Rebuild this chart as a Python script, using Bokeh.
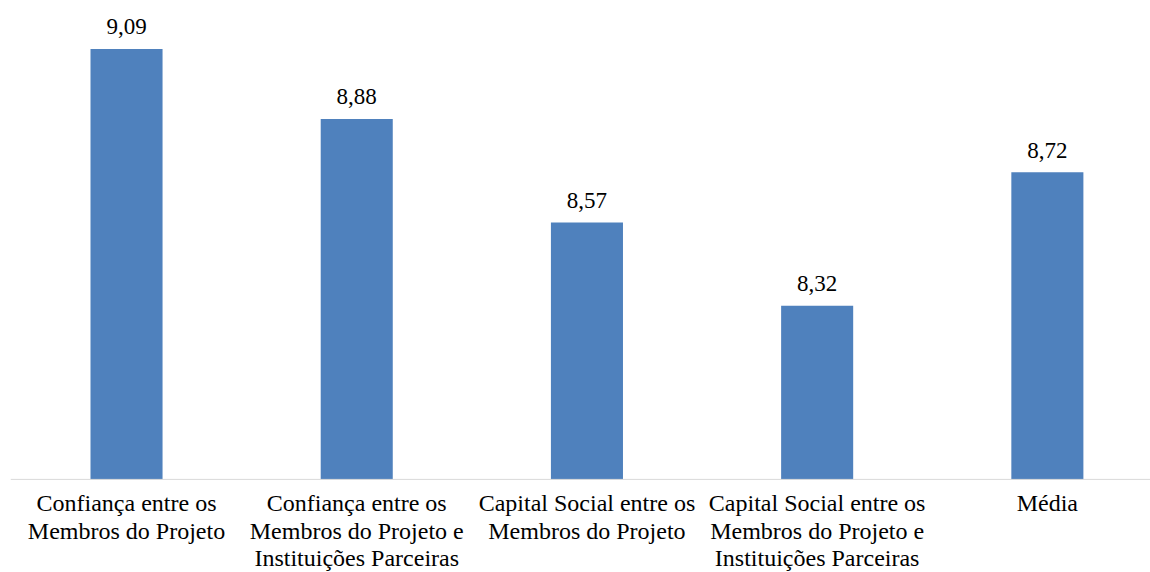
from bokeh.plotting import figure
from bokeh.models import ColumnDataSource, Range1d, Span
from bokeh.core.properties import value
from bokeh.embed import file_html
from bokeh.resources import INLINE

categories = [
    "Confiança entre os\nMembros do Projeto",
    "Confiança entre os\nMembros do Projeto e\nInstituições Parceiras",
    "Capital Social entre os\nMembros do Projeto",
    "Capital Social entre os\nMembros do Projeto e\nInstituições Parceiras",
    "Média",
]
values = [9.09, 8.88, 8.57, 8.32, 8.72]
value_labels = ["9,09", "8,88", "8,57", "8,32", "8,72"]

FONT = "Liberation Serif"
Y0 = 7.8

xs = list(range(1, len(categories) + 1))
source = ColumnDataSource(dict(x=xs, top=values, lab=value_labels,
                               cat=categories, base=[Y0] * len(xs)))

p = figure(width=1150, height=572, output_backend="svg", toolbar_location=None,
           x_range=Range1d(0.496, 5.448), y_range=Range1d(7.521, 9.235),
           min_border_left=10, min_border_right=0, min_border_top=0, min_border_bottom=0)
p.outline_line_color = None
p.background_fill_color = "white"
p.border_fill_color = "white"
p.grid.visible = False
p.xaxis.visible = False
p.yaxis.visible = False

p.vbar(x="x", top="top", bottom=Y0, width=0.313, source=source,
       fill_color="#4F81BD", line_color=None)

# category axis line
p.add_layout(Span(location=Y0, dimension="width", line_color="#D9D9D9", line_width=1))

# value labels
p.text(x="x", y="top", text="lab", source=source, text_align="center",
       text_baseline="alphabetic", y_offset=-22,
       text_font=value(FONT), text_font_size="23px", text_color="#000000")

# category labels under the axis line
p.text(x="x", y="base", text="cat", source=source, text_align="center",
       text_baseline="top", y_offset=11,
       text_font=value(FONT), text_font_size="24px", text_color="#000000",
       text_line_height=1.05)

open("out.html", "w").write(file_html(p, INLINE))
